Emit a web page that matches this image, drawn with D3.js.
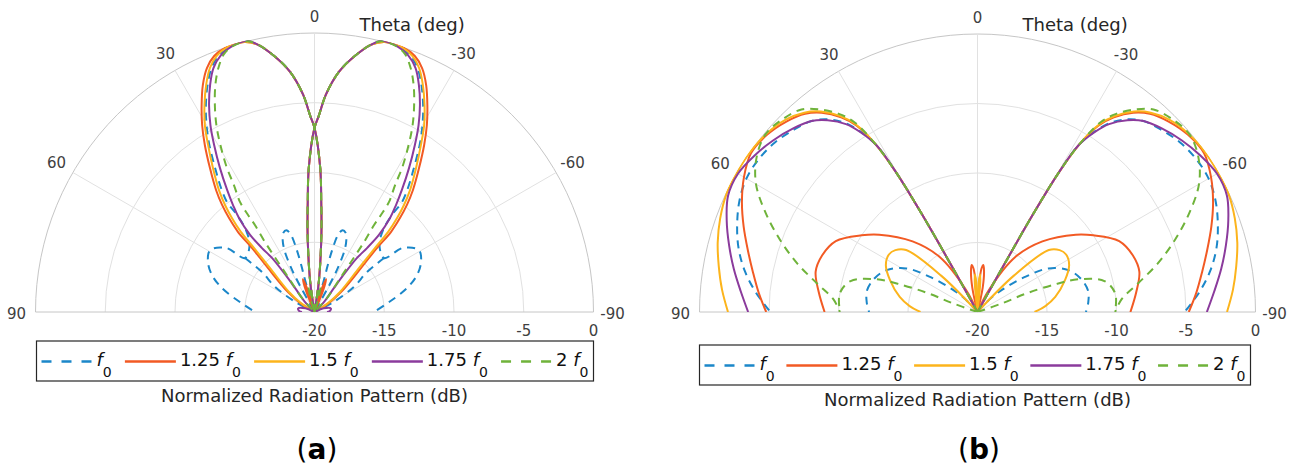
<!DOCTYPE html>
<html>
<head>
<meta charset="utf-8">
<script src="https://cdn.jsdelivr.net/npm/d3@7"></script>
<style>
  body { margin: 0; background: #fff; }
  svg { display: block; }
  text { font-family: "DejaVu Sans", sans-serif; white-space: pre; }
</style>
</head>
<body>
<svg id="chart" width="1294" height="471"></svg>
<script>
// series: f0, 1.25 f0, 1.5 f0, 1.75 f0, 2 f0
var colors = ["#1b87c9", "#f25a24", "#fcb41c", "#8b3b9c", "#6fb33a"]
var dashed = [true, false, false, false, true]
var legendPrefix = ["", "1.25 ", "1.5 ", "1.75 ", "2 "]
var thetaTicks = [90, 60, 30, 0, -30, -60, -90]
var spokeAngles = [60, 30, 0, -30, -60]
var rTicks = [-20, -15, -10, -5, 0]

// patterns are symmetric, each trace is read for the left half [theta deg, dB] and drawn mirrored
// ---- (a) ----
var aInner = [[-10, -20], [-8, -17.7], [-5, -14.3], [-3.5, -12.1], [-2.3, -9.7], [0, -6.8], [1.3, -5.9], [3, -4.4], [5.8, -2.7], [9, -1.4], [12, -0.4]]
var aOuterF0 = [[14.2, 0], [17.7, -0.06], [20.6, -0.4], [22.9, -1.02], [25.2, -2.0], [27.7, -3.25], [30, -4.52], [32.2, -5.86], [34.6, -7.45], [37, -8.87], [38.5, -9.92], [38.6, -11.1], [39.9, -12.34], [44.1, -13.31], [52.2, -13.69], [54, -12.2], [59.3, -11.3], [64.8, -11.56], [70.2, -12.19], [75.5, -13.15], [82.4, -14.6], [90, -15.73]]
var aNullF0 = [[52.2, -13.69], [52.7, -15.27], [57.4, -16.64], [62.2, -18.42], [66, -20]]
var aOuterF125 = [[14.6, 0], [18.5, 0], [21.4, -0.29], [23.8, -0.89], [26.2, -1.87], [28.6, -3.1], [31, -4.36], [33.3, -5.68], [36, -7.25], [38.9, -8.76], [40.8, -9.86], [42.3, -10.9], [43.7, -12.07], [44.3, -13.6], [46.6, -15.4], [53, -17.6], [58, -18.8], [65, -20]]
var aOuterF15 = [[14.6, 0], [18.1, 0], [20.9, -0.35], [23.2, -0.97], [25.5, -1.96], [28, -3.2], [30.4, -4.47], [32.5, -5.8], [35.2, -7.37], [38.1, -8.9], [39.9, -10.0], [41.3, -11.03], [42.6, -12.2], [43.4, -13.7], [45.3, -15.5], [51.9, -17.7], [56.3, -18.8], [62, -20]]
var aOuterF175 = [[13.8, 0], [17.2, -0.04], [20, -0.4], [22.5, -1.07], [24.7, -2.09], [27, -3.35], [29.1, -4.66], [31, -6.03], [33.3, -7.66], [35.6, -9.24], [37.3, -10.36], [38.8, -11.36], [39.9, -12.8], [39.4, -14.07], [38.2, -15.07], [38, -16.45], [39.1, -17.8], [43.5, -19.0], [50, -20]]
var aOuterF2 = [[14, 0], [17, -0.06], [19.3, -0.4], [21.5, -1.2], [23.6, -2.25], [25.7, -3.53], [27.7, -4.87], [29.4, -6.26], [31.3, -7.92], [32.4, -9.22], [34.1, -10.47], [34.4, -11.57], [34.4, -12.44], [35.3, -13.86], [36.1, -15.56], [37.4, -17.1], [41.8, -18.65], [48, -20]]
var aLobeAF0 = [[16, -20], [16.5, -17.7], [15.8, -16.5], [16, -15.2], [17, -14.2], [19, -13.8], [21.5, -13.9], [24, -14.4], [26, -15.1], [28, -16.5], [29, -18.1], [31, -20]]
var aSpikeF125 = [[15, -20], [17, -18.4], [19.5, -17.5], [22, -18.4], [24, -20]]
var aSpikeF2 = [[8, -20], [10.5, -18.6], [13, -18.1], [15.5, -18.8], [18, -20]]
var aLoopF175 = [[55, -20], [68, -19.3], [78, -18.8], [86, -18.9], [90, -19.1]]

// ---- (b) ----
var bInner = [[29, -20], [29.3, -16], [29.6, -12], [30.2, -8.5], [31.2, -6]]
var bMainF0 = [[33, -4.5], [35, -3.4], [38, -2.4], [41, -1.8], [45, -1.4], [50, -1.0], [55, -0.8], [60, -0.8], [65, -1.1], [70, -1.6], [75, -2.2], [80, -3.0], [85, -4.0], [90, -5.1]]
var bMainF125 = [[33, -4.0], [35, -2.9], [38, -1.8], [41, -1.1], [45, -0.6], [50, -0.2], [55, -0.1], [60, -0.6], [65, -1.3], [70, -2.1], [75, -2.9], [80, -3.6], [85, -4.2], [90, -4.8]]
var bMainF15 = [[33, -3.9], [35, -2.8], [38, -1.7], [41, -1.0], [45, -0.45], [50, -0.12], [55, 0], [60, 0], [65, -0.05], [70, -0.3], [75, -0.65], [80, -1.1], [85, -1.55], [90, -2.05]]
var bMainF175 = [[33, -4.6], [35, -3.5], [38, -2.5], [41, -1.8], [45, -1.3], [50, -0.8], [55, -0.4], [60, -0.1], [65, -0.2], [70, -0.8], [75, -1.5], [80, -2.2], [85, -2.9], [90, -3.5]]
var bMainF2 = [[33, -3.7], [35, -2.6], [38, -1.5], [41, -0.7], [45, -0.3], [50, -0.1], [55, -0.6], [60, -1.6], [65, -3.2], [70, -4.9], [75, -6.6], [80, -8.3], [85, -9.6], [90, -10.1]]
var bLobeF0 = [[38, -20], [44, -18.6], [48, -17.6], [53.7, -15.7], [58.5, -14.0], [65.3, -12.8], [72, -12.2], [79, -11.9], [85, -12.0], [90, -12.2]]
var bLobeF125 = [[27, -20], [27.5, -18.2], [34.5, -15.2], [42.6, -13.1], [51.8, -11.0], [56.5, -10.0], [63.4, -8.6], [70, -8.1], [76, -8.0], [83, -8.5], [90, -9.0]]
var bSpikeF125 = [[3, -20], [4, -17.5], [5.5, -16.8], [7, -16.6], [9, -17], [12, -18.2], [14, -20]]
var bLobeF15 = [[40, -20], [45, -16.3], [49, -13.2], [53, -12.6], [57, -12.4], [63, -12.6], [70, -13.3], [79, -14.3], [85, -15.1], [90, -15.9]]
var bSpikeF15 = [[1, -20], [2.5, -17.8], [4, -17.3], [5.5, -18], [7, -20]]
var bLobeF2 = [[72, -20], [70.6, -18.1], [69.2, -16.2], [70.5, -13.9], [72, -12.4], [76.3, -10.6], [82.4, -10.0], [90, -10.1]]

var panels = [
    {id: "a", cx: 314.5, cy: 312, R: 279, legX: 36.5, legY: 341, legW: 557, titleY: 402, tagX: 317,
     series: [[aInner.concat(aOuterF0), aNullF0, aLobeAF0], [aInner.concat(aOuterF125), aSpikeF125], [aInner.concat(aOuterF15)], [aInner.concat(aOuterF175), aLoopF175], [aInner.concat(aOuterF2), aSpikeF2]]},
    {id: "b", cx: 977.5, cy: 312, R: 278, legX: 699.5, legY: 345, legW: 551, titleY: 406, tagX: 979,
     series: [[bInner.concat(bMainF0), bLobeF0], [bInner.concat(bMainF125), bLobeF125, bSpikeF125], [bInner.concat(bMainF15), bLobeF15, bSpikeF15], [bInner.concat(bMainF175)], [bInner.concat(bMainF2), bLobeF2]]}
]

var svg = d3.select("#chart")
const rad = t => t * Math.PI / 180

panels.forEach(drawPanel)

function drawPanel(p) {
    var g = svg.append("g")
    var r = d3.scaleLinear().domain([-20, 0]).range([0, p.R]).clamp(true)

    // rings
    rTicks.slice(1).forEach(v => {
        var arc = d3.path()
        arc.arc(p.cx, p.cy, r(v), Math.PI, 2 * Math.PI)
        g.append("path").attr("d", arc.toString()).attr("fill", "none")
            .attr("stroke", v == 0 ? "#c6c6c6" : "#e1e1e1").attr("stroke-width", 1)
    })
    // spokes
    spokeAngles.forEach(t => {
        g.append("line").attr("x1", p.cx).attr("y1", p.cy)
            .attr("x2", p.cx - p.R * Math.sin(rad(t))).attr("y2", p.cy - p.R * Math.cos(rad(t)))
            .attr("stroke", "#e1e1e1").attr("stroke-width", 1)
    })
    g.append("line").attr("x1", p.cx - p.R).attr("x2", p.cx + p.R).attr("y1", p.cy).attr("y2", p.cy)
        .attr("stroke", "#c6c6c6").attr("stroke-width", 1)

    // theta labels
    thetaTicks.forEach(t => {
        var lr = t == 0 ? p.R + 16 : p.R + 19
        g.append("text").attr("x", p.cx - lr * Math.sin(rad(t))).attr("y", p.cy - lr * Math.cos(rad(t)) + (Math.abs(t) == 90 ? 2 : 0))
            .attr("text-anchor", "middle").attr("dominant-baseline", "central")
            .attr("font-size", 15).attr("fill", "#404040").text(t)
    })
    g.append("text").attr("x", p.cx + 45).attr("y", 31).attr("font-size", 18).attr("fill", "#262626").text("Theta (deg)")

    // radial labels
    rTicks.forEach(v => {
        g.append("text").attr("x", p.cx + r(v)).attr("y", p.cy + 19).attr("text-anchor", "middle")
            .attr("dominant-baseline", "central").attr("font-size", 15).attr("fill", "#404040").text(v)
    })

    // curves, clipped to the upper half disk
    var clipId = "clip-" + p.id
    svg.append("clipPath").attr("id", clipId)
        .append("path").attr("d", `M${-p.R - 1},0 A${p.R + 1},${p.R + 1} 0 0 1 ${p.R + 1},0 Z`)
    var plot = g.append("g").attr("transform", `translate(${p.cx},${p.cy})`)
        .append("g").attr("clip-path", `url(#${clipId})`)

    p.series.forEach((segs, i) => {
        segs.forEach(seg => {
            [1, -1].forEach(sign => {
                var line = d3.lineRadial()
                    .angle(d => -sign * rad(d[0]))
                    .radius(d => r(d[1]))
                    .curve(d3.curveCatmullRom.alpha(0.5))
                plot.append("path").attr("d", line(seg)).attr("fill", "none")
                    .attr("stroke", colors[i]).attr("stroke-width", 2)
                    .attr("stroke-linejoin", "round")
                    .attr("stroke-dasharray", dashed[i] ? "8,6" : null)
            })
        })
    })

    // legend: texts first, then spread the gaps so the row fills the box
    var lg = g.append("g")
    lg.append("rect").attr("x", p.legX).attr("y", p.legY).attr("width", p.legW).attr("height", 40)
        .attr("fill", "#fff").attr("stroke", "#262626").attr("stroke-width", 1.2)
    var ly = p.legY + 20.5, lineLen = 51, textGap = 4
    var texts = legendPrefix.map(pre => {
        var t = lg.append("text").attr("y", ly + 4.5).attr("font-size", 18).attr("fill", "#111")
        if (pre) t.append("tspan").text(pre)
        t.append("tspan").attr("font-style", "italic").text("f")
        t.append("tspan").attr("font-size", 14).attr("dy", 11).text("0")
        return t
    })
    var widths = texts.map(t => t.node().getComputedTextLength())
    var used = d3.sum(widths) + legendPrefix.length * (lineLen + textGap)
    var gap = (p.legW - 10 - used) / (legendPrefix.length - 1)
    var x = p.legX + 5
    texts.forEach((t, i) => {
        lg.append("line").attr("x1", x).attr("x2", x + lineLen).attr("y1", ly).attr("y2", ly)
            .attr("stroke", colors[i]).attr("stroke-width", 2.5).attr("stroke-dasharray", dashed[i] ? "10,10" : null)
        t.attr("x", x + lineLen + textGap)
        x += lineLen + textGap + widths[i] + gap
    })

    g.append("text").attr("x", p.cx).attr("y", p.titleY).attr("text-anchor", "middle")
        .attr("font-size", 18).attr("fill", "#262626").text("Normalized Radiation Pattern (dB)")

    var tag = g.append("text").attr("x", p.tagX).attr("y", 459).attr("text-anchor", "middle")
        .attr("font-family", "'Liberation Serif', serif").attr("font-size", 28).attr("fill", "#000")
    tag.append("tspan").text("(")
    tag.append("tspan").attr("font-weight", "bold").text(p.id)
    tag.append("tspan").text(")")
}
</script>
</body>
</html>
